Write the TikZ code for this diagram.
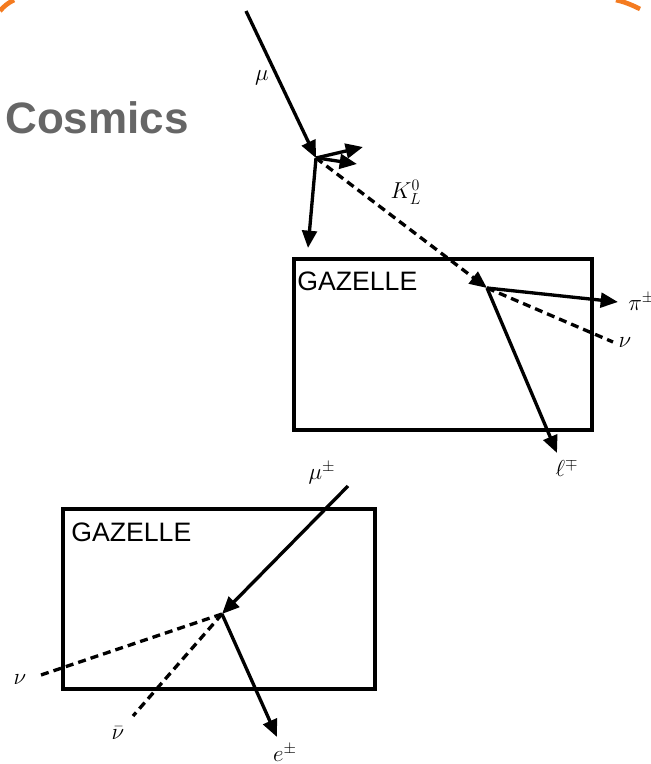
\documentclass[tikz,border=0pt]{standalone}
\usepackage{fontspec}
\setsansfont{Liberation Sans}
\usetikzlibrary{arrows.meta}
\definecolor{deco}{HTML}{F47B20}
\definecolor{titlegray}{HTML}{666666}
\tikzset{
  track/.style={line width=2.5pt, -{Triangle[length=13pt,width=11pt]}},
  dtrack/.style={line width=2.5pt, dash pattern=on 6pt off 3.8pt},
  box/.style={draw, line width=2.5pt, inner sep=0pt},
  gz/.style={font=\sffamily\fontsize{20}{20}\selectfont, inner sep=0pt, anchor=north west},
  lab/.style={font=\fontsize{17}{19}\selectfont, inner sep=0pt},
}
\begin{document}
\begin{tikzpicture}[x=0.75pt,y=-0.75pt]
\useasboundingbox (0,0) rectangle (650,764);
% orange frame remnants
\draw[deco, line width=3.5pt] (0,11) .. controls (4,6) and (8,3) .. (14,0);
\draw[deco, line width=3.5pt] (616,0) .. controls (625,2) and (632,5) .. (640,9);
% title
\node[font=\sffamily\bfseries\fontsize{33}{33}\selectfont, text=titlegray, anchor=base west, inner sep=0pt] (title) at (5,133) {Cosmics};
% boxes
\node[box, minimum width=223.5pt, minimum height=128.25pt] (b1) at (443,344.5) {};
\node[box, minimum width=234pt, minimum height=135pt] (b2) at (219,599) {};
\node[gz] (g1) at (297,272) {GAZELLE};
\node[gz] (g2) at (71,523) {GAZELLE};
% coordinates
\coordinate (mu0) at (246,11);
\coordinate (v1) at (316,158);
\coordinate (a1) at (363,147);
\coordinate (a2) at (357,164);
\coordinate (a3) at (308,248);
\coordinate (v2) at (487,288);
\coordinate (pie) at (618,302);
\coordinate (nue) at (613,342);
\coordinate (le) at (557,453);
\coordinate (mu2) at (348,486);
\coordinate (v3) at (222,614);
\coordinate (nu2) at (38,676);
\coordinate (nub) at (133,716);
\coordinate (ee) at (277,737);
% upper event
\draw[track] (mu0) -- (v1);
\draw[track] (v1) -- (a1);
\draw[track] ([xshift=1pt]v1) -- (a2);
\draw[track] (v1) -- (a3);
\draw[dtrack, -{Triangle[length=13pt,width=11pt]}] (v1) -- (v2);
\draw[track] (v2) -- (pie);
\draw[dtrack] (v2) -- (nue);
\draw[track] (v2) -- (le);
% lower event
\draw[track] (mu2) -- (v3);
\draw[dtrack] (v3) -- (nu2);
\draw[dtrack] (v3) -- (nub);
\draw[track] (v3) -- (ee);
% labels
\node[lab] (lmu) at (262,78) {$\mu$};
\node[lab] (lk) at (406,192) {$K_L^0$};
\node[lab, anchor=west] (lpi) at (628,302) {$\pi^\pm$};
\node[lab] (lnu) at (625,343) {$\nu$};
\node[lab] (ll) at (567,468) {$\ell^\mp$};
\node[lab] (lmu2) at (322,473) {$\mu^\pm$};
\node[lab] (lnu2) at (20,680) {$\nu$};
\node[lab] (lnub) at (118,733) {$\bar\nu$};
\node[lab] (le2) at (285,753) {$e^\pm$};
\end{tikzpicture}
\end{document}
